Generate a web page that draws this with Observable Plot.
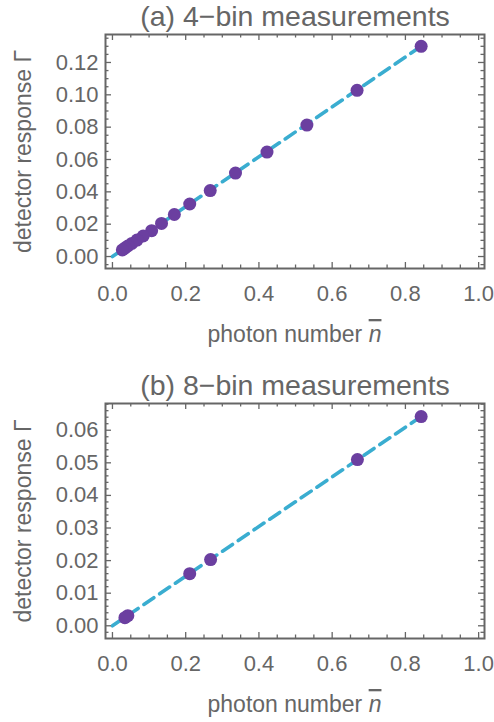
<!DOCTYPE html>
<html><head><meta charset="utf-8">
<script src="https://cdn.jsdelivr.net/npm/d3@7"></script>
<script src="https://cdn.jsdelivr.net/npm/@observablehq/plot@0.6"></script>
<style>body{margin:0;background:#fff} #c svg{display:block}</style>
</head><body><div id="c"></div>
<script>
// ---- data ----
const titleA = "(a) 4\u2212bin measurements";
const titleB = "(b) 8\u2212bin measurements";
const photonA = [0.843, 0.668, 0.531, 0.422, 0.336, 0.267, 0.211, 0.169, 0.134, 0.107, 0.084, 0.067, 0.053, 0.042, 0.034, 0.027];
const gammaA  = [0.1300, 0.1028, 0.0813, 0.0646, 0.0516, 0.0408, 0.0325, 0.0260, 0.0205, 0.0160, 0.0127, 0.0102, 0.0081, 0.0065, 0.0052, 0.0041];
const photonB = [0.843, 0.669, 0.268, 0.211, 0.042, 0.034];
const gammaB  = [0.0642, 0.0510, 0.0203, 0.0160, 0.0031, 0.0025];
const fitAx = [0, 0.843], fitAy = [0, 0.1300];
const fitBx = [0, 0.843], fitBy = [0, 0.0642];
const xTicks  = [0, 0.2, 0.4, 0.6, 0.8, 1.0];
const yTicksA = [0, 0.02, 0.04, 0.06, 0.08, 0.10, 0.12];
const yTicksB = [0, 0.01, 0.02, 0.03, 0.04, 0.05, 0.06];
const xLabel = "photon number ";
const xLabelSym = "n";
const yLabel = "detector response \u0393";

const GRAY = "#666666", PURPLE = "#6b3fa0", CYAN = "#3aadd0";
const FONT = "Liberation Sans, Arial, sans-serif";
const W = 494, H = 361, ML = 105, MR = 10;

function panel({title, px, py, fx, fy, yTicks, yMinorStep, yDomain, yFmt, mt, mb}) {
  const fw = W - ML - MR, fh = H - mt - mb;
  const ptsData = px.map((x, i) => ({x, y: py[i]}));
  const fitData = fx.map((x, i) => ({x, y: fy[i]}));
  const xMinor = d3.range(0, 1.0001, 0.05).filter(v => !xTicks.some(t => Math.abs(t - v) < 1e-9));
  const yMinor = d3.range(Math.ceil(yDomain[0] / yMinorStep) * yMinorStep, yDomain[1], yMinorStep)
    .filter(v => !yTicks.some(t => Math.abs(t - v) < 1e-9));
  const LMaj = 6, LMin = 3.5;
  const tk = {stroke: GRAY, strokeWidth: 1.3};
  const labelMark = (index, scales, values, dim) => {
    const t = d3.create("svg:text")
      .attr("x", ML + fw / 2).attr("y", dim.height - mb + 74)
      .attr("text-anchor", "middle").attr("fill", GRAY)
      .attr("font-family", FONT).attr("font-size", 23);
    t.append("tspan").text(xLabel);
    t.append("tspan").attr("font-style", "italic").style("text-decoration", "overline").text(xLabelSym);
    return t.node();
  };
  return Plot.plot({
    width: W, height: H, marginLeft: ML, marginRight: MR, marginTop: mt, marginBottom: mb,
    style: {fontFamily: FONT, background: "#fff", overflow: "visible"},
    x: {domain: [-0.019, 1.016], axis: null},
    y: {domain: yDomain, axis: null},
    marks: [
      Plot.line(fitData, {x: "x", y: "y", stroke: CYAN, strokeWidth: 3.6, strokeDasharray: "12,7"}),
      Plot.dot(ptsData, {x: "x", y: "y", r: 6.5, fill: PURPLE, stroke: "none"}),
      // inward ticks on all four sides
      Plot.tickX(xTicks, {x: d => d, insetTop: fh - LMaj, ...tk}),
      Plot.tickX(xMinor, {x: d => d, insetTop: fh - LMin, ...tk}),
      Plot.tickX(xTicks, {x: d => d, insetBottom: fh - LMaj, ...tk}),
      Plot.tickX(xMinor, {x: d => d, insetBottom: fh - LMin, ...tk}),
      Plot.tickY(yTicks, {y: d => d, insetRight: fw - LMaj, ...tk}),
      Plot.tickY(yMinor, {y: d => d, insetRight: fw - LMin, ...tk}),
      Plot.tickY(yTicks, {y: d => d, insetLeft: fw - LMaj, ...tk}),
      Plot.tickY(yMinor, {y: d => d, insetLeft: fw - LMin, ...tk}),
      Plot.frame({stroke: GRAY, strokeWidth: 2}),
      Plot.axisX(xTicks, {tickSize: 0, tickPadding: 17, tickFormat: d3.format(".1f"), fontSize: 22, color: GRAY, label: null}),
      Plot.axisY(yTicks, {tickSize: 0, tickPadding: 7, tickFormat: d3.format(yFmt), fontSize: 22, color: GRAY, label: null}),
      Plot.text([title], {frameAnchor: "top", lineAnchor: "bottom", dy: -9, fontSize: 28.5, fill: GRAY, fontFamily: FONT}),
      Plot.text([yLabel], {frameAnchor: "left", dx: -75, rotate: -90, textAnchor: "middle", lineAnchor: "bottom", fontSize: 23, fill: GRAY, fontFamily: FONT}),
      labelMark
    ]
  });
}

const c = document.getElementById("c");
c.append(panel({title: titleA, px: photonA, py: gammaA, fx: fitAx, fy: fitAy,
  yTicks: yTicksA, yMinorStep: 0.005, yDomain: [-0.0074, 0.1373], yFmt: ".2f", mt: 34, mb: 93}));
c.append(panel({title: titleB, px: photonB, py: gammaB, fx: fitBx, fy: fitBy,
  yTicks: yTicksB, yMinorStep: 0.002, yDomain: [-0.0039, 0.0682], yFmt: ".2f", mt: 42, mb: 84}));
</script>
</body></html>
